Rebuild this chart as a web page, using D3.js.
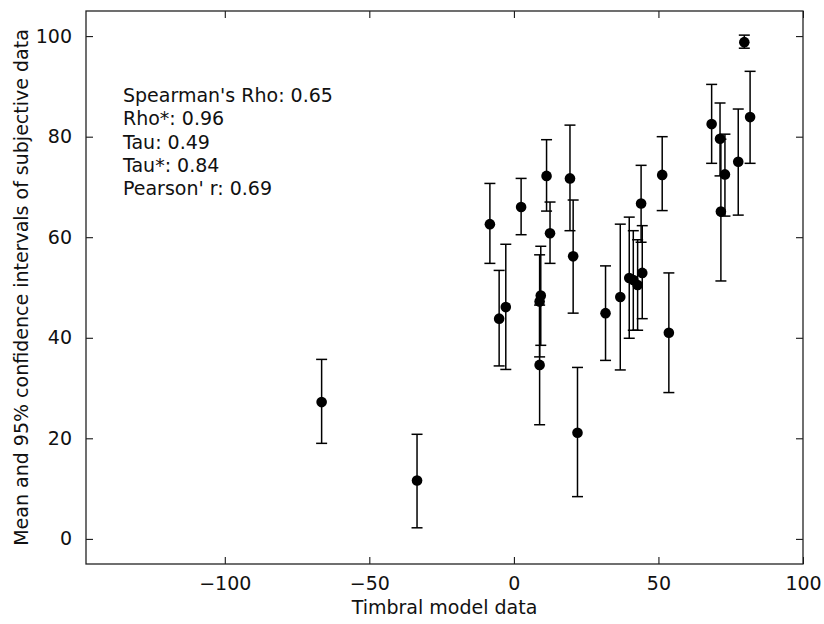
<!DOCTYPE html>
<html>
<head>
<meta charset="utf-8">
<script src="https://cdn.jsdelivr.net/npm/d3@7"></script>
<style>
  body { margin: 0; background: #fff; }
  svg { display: block; font-family: "DejaVu Sans", sans-serif; }
</style>
</head>
<body>
<div id="chart"></div>
<script>
// timbral model value (x), subjective mean and 95% CI bounds
const modelX = [-66.5, -33.5, -8.3, -5.1, -2.8, 2.5, 11.3, 12.5, 19.4, 20.5,
  9.3, 8.9, 8.9, 22.0, 31.7, 36.8, 39.9, 41.3, 42.8, 44.4,
  44.0, 51.3, 53.6, 68.4, 71.3, 71.6, 73.0, 77.6, 81.7, 79.7]
const meanY = [27.2, 11.6, 62.6, 43.8, 46.1, 66.0, 72.2, 60.8, 71.7, 56.2,
  48.4, 47.2, 34.6, 21.1, 44.9, 48.1, 51.9, 51.5, 50.5, 52.9,
  66.7, 72.4, 41.0, 82.5, 79.6, 65.1, 72.5, 75.0, 83.9, 98.8]
const lowY = [19.0, 2.2, 54.8, 34.4, 33.7, 60.5, 65.2, 54.8, 61.3, 44.9,
  38.5, 36.2, 22.7, 8.4, 35.5, 33.6, 39.9, 41.5, 41.5, 43.8,
  59.0, 65.3, 29.1, 74.7, 72.2, 51.3, 64.2, 64.4, 74.7, 97.6]
const highY = [35.7, 20.8, 70.7, 53.4, 58.6, 71.7, 79.4, 67.0, 82.3, 67.4,
  58.2, 56.5, 46.5, 34.1, 54.3, 62.6, 64.0, 61.3, 59.5, 62.3,
  74.3, 80.0, 52.9, 90.4, 86.7, 79.5, 80.5, 85.5, 93.0, 100.2]

const xTicks = [-100, -50, 0, 50, 100]
const yTicks = [0, 20, 40, 60, 80, 100]
const statLines = ["Spearman's Rho: 0.65", "Rho*: 0.96", "Tau: 0.49", "Tau*: 0.84", "Pearson' r: 0.69"]

const W = 824, H = 624
const margin = { left: 86, right: 21, top: 11, bottom: 60 }
const iw = W - margin.left - margin.right
const ih = H - margin.top - margin.bottom

const svg = d3.select("#chart").append("svg")
  .attr("width", W)
  .attr("height", H)

const g = svg.append("g")
  .attr("transform", `translate(${margin.left},${margin.top})`)

const x = d3.scaleLinear().domain([-148, 100]).range([0, iw])
const y = d3.scaleLinear().domain([-5, 105]).range([ih, 0])

const fmt = d => d < 0 ? "\u2212" + Math.abs(d) : String(d)

// axes, ticks pointing inward on every side
const tickLen = 7
g.append("g").attr("transform", `translate(0,${ih})`)
  .call(d3.axisBottom(x).tickValues(xTicks).tickSize(-tickLen).tickPadding(13).tickFormat(fmt))
g.append("g").call(d3.axisTop(x).tickValues(xTicks).tickSize(-tickLen).tickFormat(""))
g.append("g").call(d3.axisLeft(y).tickValues(yTicks).tickSize(-tickLen).tickPadding(14).tickFormat(fmt))
g.append("g").attr("transform", `translate(${iw},0)`)
  .call(d3.axisRight(y).tickValues(yTicks).tickSize(-tickLen).tickFormat(""))

g.selectAll(".domain").remove()
g.selectAll(".tick line").attr("stroke", "#000").attr("stroke-width", 1)
g.selectAll(".tick text").attr("font-size", 19).attr("fill", "#111")
  .attr("font-family", "DejaVu Sans")

g.append("rect")
  .attr("width", iw).attr("height", ih)
  .attr("fill", "none").attr("stroke", "#222").attr("stroke-width", 1.3)

const pts = d3.range(modelX.length)
const cap = 5.5

const bars = g.append("g").attr("stroke", "#000").attr("stroke-width", 1.5)
bars.selectAll(".err").data(pts).join("line")
  .attr("x1", i => x(modelX[i])).attr("x2", i => x(modelX[i]))
  .attr("y1", i => y(lowY[i])).attr("y2", i => y(highY[i]))
bars.selectAll(".capLo").data(pts).join("line")
  .attr("x1", i => x(modelX[i]) - cap).attr("x2", i => x(modelX[i]) + cap)
  .attr("y1", i => y(lowY[i])).attr("y2", i => y(lowY[i]))
bars.selectAll(".capHi").data(pts).join("line")
  .attr("x1", i => x(modelX[i]) - cap).attr("x2", i => x(modelX[i]) + cap)
  .attr("y1", i => y(highY[i])).attr("y2", i => y(highY[i]))

g.append("g").selectAll("circle").data(pts).join("circle")
  .attr("cx", i => x(modelX[i]))
  .attr("cy", i => y(meanY[i]))
  .attr("r", 5.3)
  .attr("fill", "#000")

// correlation stats block
g.append("text")
  .attr("font-size", 19)
  .attr("fill", "#111")
  .selectAll("tspan").data(statLines).join("tspan")
    .attr("x", 123 - margin.left)
    .attr("y", (d, i) => 102 - margin.top + i * 23.3)
    .text(d => d)

svg.append("text")
  .attr("x", margin.left + iw / 2)
  .attr("y", 614)
  .attr("text-anchor", "middle")
  .attr("font-size", 19)
  .attr("fill", "#111")
  .text("Timbral model data")

svg.append("text")
  .attr("transform", `translate(28,${margin.top + ih / 2}) rotate(-90)`)
  .attr("text-anchor", "middle")
  .attr("font-size", 19)
  .attr("fill", "#111")
  .text("Mean and 95% confidence intervals of subjective data")
</script>
</body>
</html>
